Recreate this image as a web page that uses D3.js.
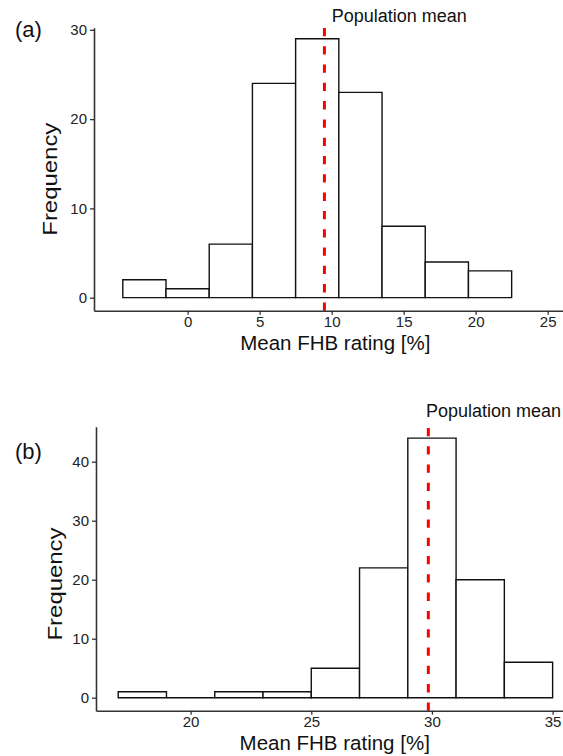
<!DOCTYPE html>
<html>
<head>
<meta charset="utf-8">
<script src="https://cdn.jsdelivr.net/npm/d3@7"></script>
<style>
  html, body { margin: 0; padding: 0; background: #fff; }
  svg { display: block; font-family: "Liberation Sans", Arial, Helvetica, sans-serif; }
</style>
</head>
<body>
<svg id="chart" width="563" height="756"></svg>
<script>
// Histogram (a): lower bin edges, counts, bin width
const aBinStarts = [-4.5, -1.5, 1.5, 4.5, 7.5, 10.5, 13.5, 16.5, 19.5];
const aCounts    = [2, 1, 6, 24, 29, 23, 8, 4, 3];
const aBinWidth  = 3;
const aMean      = 9.5;
const aXTicks    = [0, 5, 10, 15, 20, 25];
const aYTicks    = [0, 10, 20, 30];

// Histogram (b)
const bBinStarts = [17, 19, 21, 23, 25, 27, 29, 31, 33];
const bCounts    = [1, 0, 1, 1, 5, 22, 44, 20, 6];
const bBinWidth  = 2;
const bMean      = 29.85;
const bXTicks    = [20, 25, 30, 35];
const bYTicks    = [0, 10, 20, 30, 40];

const xTitle = "Mean FHB rating [%]";
const yTitle = "Frequency";
const meanLabel = "Population mean";

const svg = d3.select("#chart");

function panel(cfg) {
  const x = d3.scaleLinear().domain(cfg.xDomain).range([cfg.left, cfg.right]);
  const y = d3.scaleLinear().domain(cfg.yDomain).range([cfg.bottom, cfg.top]);
  const g = svg.append("g");

  const bins = cfg.starts.map((s, i) => ({ x0: s, x1: s + cfg.width, n: cfg.counts[i] }));

  // bars as outlined paths so that empty bins still show as a flat line
  g.selectAll("path.bar").data(bins).join("path")
    .attr("class", "bar")
    .attr("d", d => {
      const x0 = x(d.x0), x1 = x(d.x1), y0 = y(0), y1 = y(d.n);
      return `M${x0},${y0}V${y1}H${x1}V${y0}Z`;
    })
    .attr("fill", "#fff")
    .attr("stroke", "#111")
    .attr("stroke-width", 1.4);

  // dashed mean line across the full panel height
  g.append("line")
    .attr("x1", x(cfg.mean)).attr("x2", x(cfg.mean))
    .attr("y1", cfg.bottom).attr("y2", cfg.top)
    .attr("stroke", "#ff0000")
    .attr("stroke-width", 3)
    .attr("stroke-dasharray", "8.3,10");

  g.append("text")
    .attr("x", x(cfg.labelX)).attr("y", cfg.labelY)
    .attr("font-size", 18)
    .attr("fill", "#111")
    .text(meanLabel);

  // axes
  const xAxis = g.append("g")
    .attr("transform", `translate(0,${cfg.bottom})`)
    .call(d3.axisBottom(x).tickValues(cfg.xTicks).tickSize(4).tickSizeOuter(0).tickPadding(2));
  const yAxis = g.append("g")
    .attr("transform", `translate(${cfg.left},0)`)
    .call(d3.axisLeft(y).tickValues(cfg.yTicks).tickSize(4).tickSizeOuter(0).tickPadding(3));

  [xAxis, yAxis].forEach(ax => {
    ax.select(".domain").attr("stroke", "#333").attr("stroke-width", 1.6);
    ax.selectAll(".tick line").attr("stroke", "#333").attr("stroke-width", 1.3);
    ax.selectAll(".tick text")
      .attr("font-family", "Liberation Sans, Arial, sans-serif")
      .attr("font-size", 15)
      .attr("fill", "#222");
  });

  // axis titles
  g.append("text")
    .attr("x", cfg.xTitleX).attr("y", cfg.xTitleY)
    .attr("text-anchor", "middle")
    .attr("font-size", 20.5)
    .attr("fill", "#111")
    .text(xTitle);

  g.append("text")
    .attr("transform", `translate(${cfg.yTitleX},${cfg.yTitleY}) rotate(-90)`)
    .attr("text-anchor", "middle")
    .attr("font-size", 21)
    .attr("textLength", 113)
    .attr("lengthAdjust", "spacingAndGlyphs")
    .attr("fill", "#111")
    .text(yTitle);

  g.append("text")
    .attr("x", 15).attr("y", cfg.tagY)
    .attr("font-size", 22)
    .attr("fill", "#111")
    .text(cfg.tag);
}

panel({
  starts: aBinStarts, counts: aCounts, width: aBinWidth, mean: aMean,
  xTicks: aXTicks, yTicks: aYTicks,
  xDomain: [-6.5, 26.1], yDomain: [-1.46, 30.24],
  left: 94, right: 563.5, top: 27.7, bottom: 310.7,
  labelX: 10, labelY: 21.7,
  xTitleX: 335.3, xTitleY: 349.5,
  yTitleX: 56.7, yTitleY: 179.2,
  tag: "(a)", tagY: 37
});

panel({
  starts: bBinStarts, counts: bCounts, width: bBinWidth, mean: bMean,
  xTicks: bXTicks, yTicks: bYTicks,
  xDomain: [16.08, 35.43], yDomain: [-2.2, 45.93],
  left: 96, right: 563, top: 426.7, bottom: 710.7,
  labelX: 29.75, labelY: 417.3,
  xTitleX: 334.7, xTitleY: 749.5,
  yTitleX: 61.7, yTitleY: 584,
  tag: "(b)", tagY: 458.5
});
</script>
</body>
</html>
